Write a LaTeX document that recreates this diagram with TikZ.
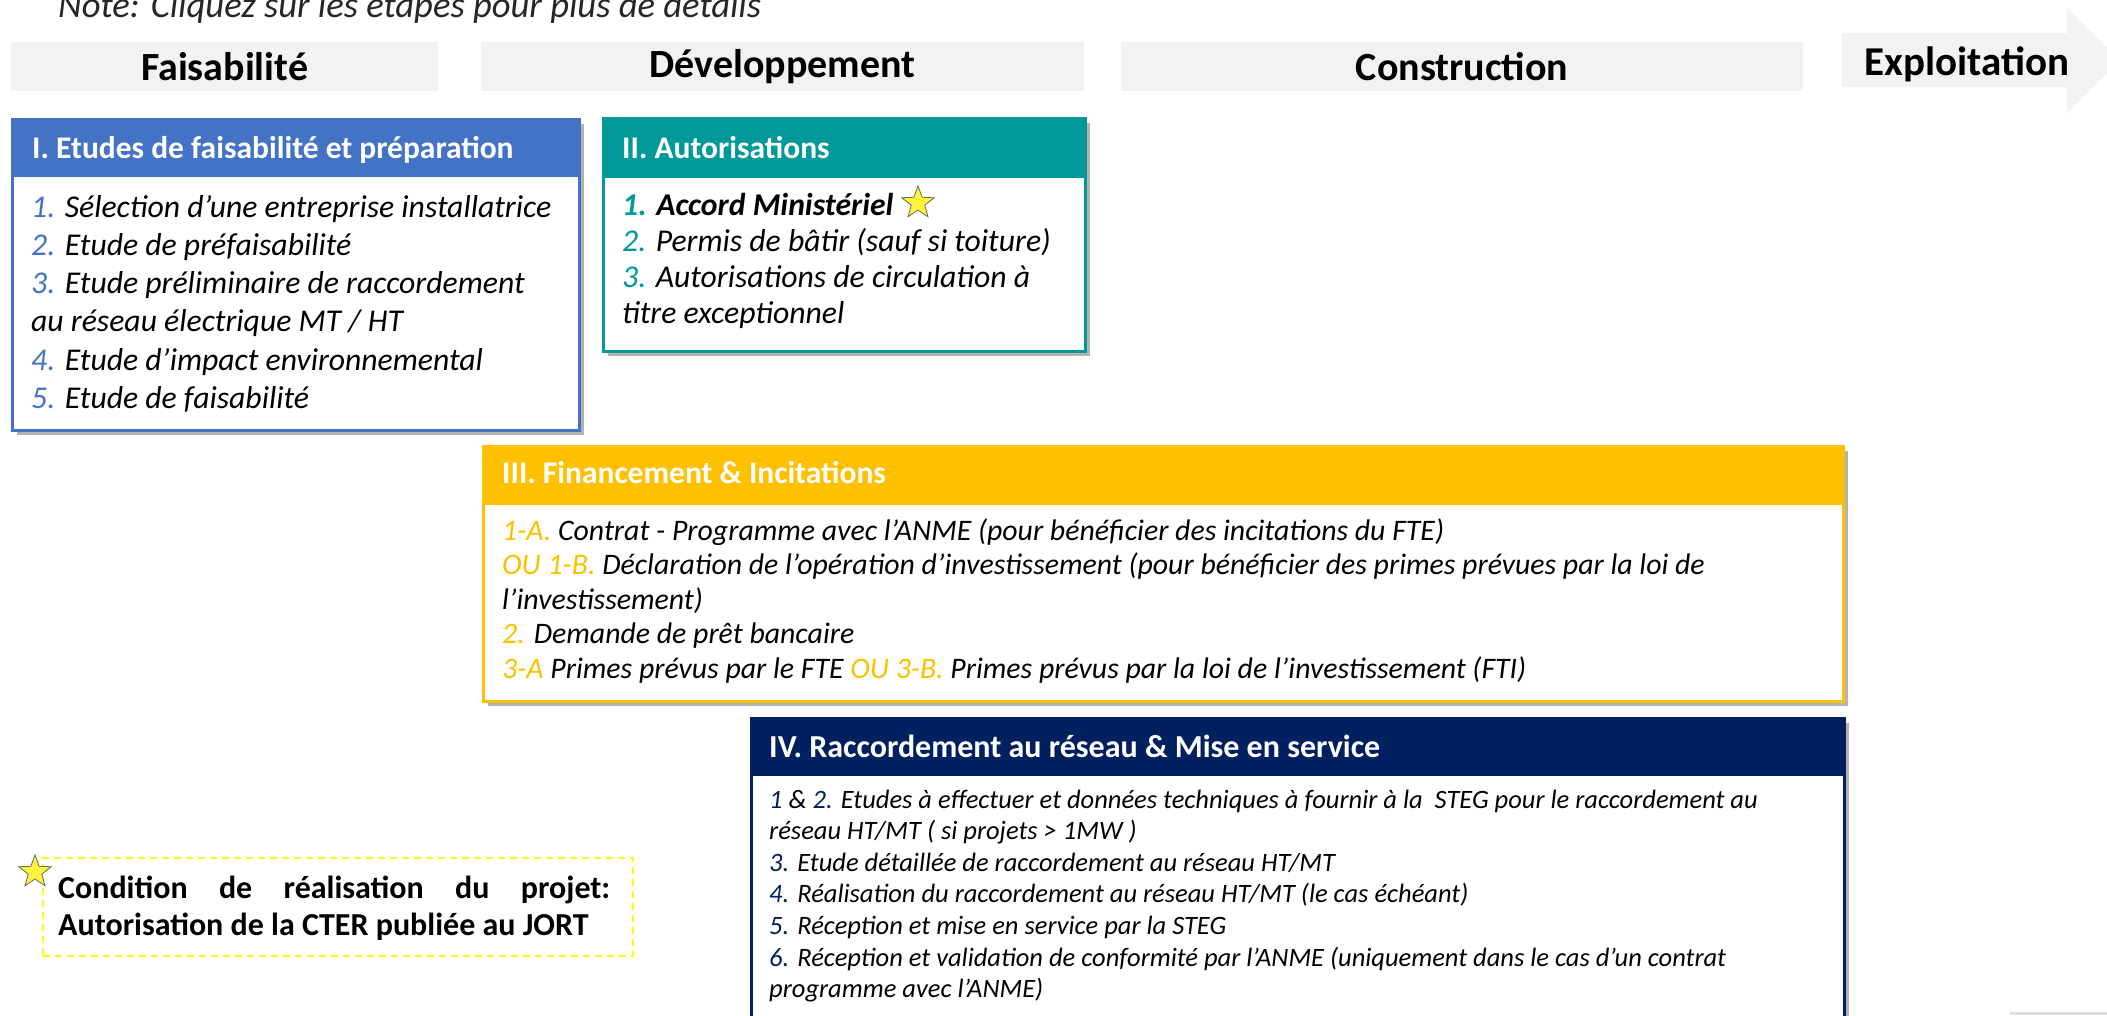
\documentclass[tikz,border=0pt]{standalone}
\usepackage{fontspec}
\setmainfont{Carlito}
\usetikzlibrary{positioning,shadows,shapes.geometric}
\definecolor{phasegray}{HTML}{F2F2F2}
\definecolor{etblue}{HTML}{4472C4}
\definecolor{auteal}{HTML}{009999}
\definecolor{fingold}{HTML}{FFC000}
\definecolor{rcnavy}{HTML}{002060}
\definecolor{notegray}{HTML}{262626}
\definecolor{staryellow}{HTML}{FFF43C}
\definecolor{condyellow}{HTML}{FFFF00}
\newcommand{\stepno}[2]{\textcolor{#1}{#2}}
\tikzset{
  phase/.style={fill=phasegray,inner sep=0pt,minimum height=49pt,
    font=\fontsize{40}{48}\selectfont\bfseries},
  boxframe/.style={draw=#1,fill=white,line width=2.5pt,anchor=north west,
    inner sep=0pt,drop shadow={shadow xshift=5pt,shadow yshift=-5pt,
    fill=black,opacity=0.3}},
  boxhead/.style={fill=#1,draw=#1,line width=2.5pt,anchor=north west,
    inner sep=0pt},
  headtxt/.style={anchor=base west,text=white,inner sep=0pt,
    font=\fontsize{31.5}{38}\selectfont\bfseries},
  % multi-line text: the base anchor sits on the last line
  bodytxt/.style 2 args={anchor=base west,align=left,inner sep=0pt,
    font=\fontsize{#1}{#2}\selectfont\itshape},
  goldstar/.style={star,star points=5,star point ratio=2.4,fill=staryellow,
    draw=black!60,line width=0.8pt,minimum size=34pt,inner sep=0pt},
  condbox/.style={draw=condyellow,line width=2pt,dash pattern=on 7pt off 5pt,
    anchor=north west,inner sep=0pt},
}

\begin{document}
\begin{tikzpicture}[x=1pt,y=-1pt]
  \useasboundingbox (0,0) rectangle (2107,1015);
  \clip (0,0) rectangle (2107,1015);

  % note
  \node[anchor=base west,inner sep=0pt,text=notegray,
    font=\fontsize{36.6}{40}\selectfont\itshape] (note) at (58,17)
    {Note: Cliquez sur les étapes pour plus de détails};

  % phases
  \node[phase,minimum width=427pt] (phF) at (224.5,66.5) {Faisabilité};
  \node[phase,minimum width=603pt] (phD) at (782.5,66.5) {Développement};
  \node[phase,minimum width=682pt] (phC) at (1462,66.5) {Construction};
  \fill[phasegray] (1842,33) -- (2067,33) -- (2067,8) -- (2120,60.5)
    -- (2067,113) -- (2067,87) -- (1842,87) -- cycle;
  \node[inner sep=0pt,font=\fontsize{41}{48}\selectfont\bfseries]
    (phE) at (1967,64) {Exploitation};

  % I. faisabilite
  \node[boxframe=etblue,minimum width=567pt,minimum height=311pt]
    (fI) at (11,118) {};
  \node[boxhead=etblue,minimum width=567pt,minimum height=56pt]
    (hdI) at (11,118) {};
  \node[headtxt] (tI) at (32,158) {I. Etudes de faisabilité et préparation};
  \node[bodytxt={31.7}{38.3}] (bI) at (31,408.5) {%
    \stepno{etblue}{1.} Sélection d’une entreprise installatrice\\
    \stepno{etblue}{2.} Etude de préfaisabilité\\
    \stepno{etblue}{3.} Etude préliminaire de raccordement\\
    au réseau électrique MT / HT\\
    \stepno{etblue}{4.} Etude d’impact environnemental\\
    \stepno{etblue}{5.} Etude de faisabilité};

  % II. autorisations
  \node[boxframe=auteal,minimum width=482pt,minimum height=233pt]
    (fII) at (602,117) {};
  \node[boxhead=auteal,minimum width=482pt,minimum height=58pt]
    (hdII) at (602,117) {};
  \node[headtxt] (tII) at (622,158) {II. Autorisations};
  \node[bodytxt={31.7}{36}] (bII) at (622,323) {%
    \textbf{\stepno{auteal}{1.} Accord Ministériel}\\
    \stepno{auteal}{2.} Permis de bâtir (sauf si toiture)\\
    \stepno{auteal}{3.} Autorisations de circulation à\\
    titre exceptionnel};
  \node[goldstar] (stII) at (918,203) {};

  % III. financement
  \node[boxframe=fingold,minimum width=1360pt,minimum height=255pt]
    (fIII) at (482,445) {};
  \node[boxhead=fingold,minimum width=1360pt,minimum height=57pt]
    (hdIII) at (482,445) {};
  \node[headtxt] (tIII) at (502,483) {III. Financement \& Incitations};
  \node[bodytxt={29.8}{34.5}] (bIII) at (502,678) {%
    \stepno{fingold}{1-A.} Contrat - Programme avec l’ANME (pour bénéficier des incitations du FTE)\\
    \stepno{fingold}{OU 1-B.} Déclaration de l’opération d’investissement (pour bénéficier des primes prévues par la loi de\\
    l’investissement)\\
    \stepno{fingold}{2.} Demande de prêt bancaire\\
    \stepno{fingold}{3-A} Primes prévus par le FTE \stepno{fingold}{OU 3-B.} Primes prévus par la loi de l’investissement (FTI)};

  % IV. raccordement
  \node[boxframe=rcnavy,minimum width=1093pt,minimum height=330pt]
    (fIV) at (750,717) {};
  \node[boxhead=rcnavy,minimum width=1093pt,minimum height=56pt]
    (hdIV) at (750,717) {};
  \node[headtxt,font=\fontsize{32}{38}\selectfont\bfseries] (tIV) at (769,757)
    {IV. Raccordement au réseau \& Mise en service};
  \node[bodytxt={26.5}{31.6}] (bIV) at (769,997.6) {%
    \stepno{rcnavy}{1} \& \stepno{rcnavy}{2.} Etudes à effectuer et données techniques à fournir à la \ STEG pour le raccordement au\\
    réseau HT/MT ( si projets > 1MW )\\
    \stepno{rcnavy}{3.} Etude détaillée de raccordement au réseau HT/MT\\
    \stepno{rcnavy}{4.} Réalisation du raccordement au réseau HT/MT (le cas échéant)\\
    \stepno{rcnavy}{5.} Réception et mise en service par la STEG\\
    \stepno{rcnavy}{6.} Réception et validation de conformité par l’ANME (uniquement dans le cas d’un contrat\\
    programme avec l’ANME)};

  % condition
  \node[condbox,minimum width=590pt,minimum height=98pt] (cond) at (42,857) {};
  \node[goldstar] (stC) at (35,872) {};
  \node[anchor=base west,inner sep=0pt,align=left,
    font=\fontsize{32}{37}\selectfont\bfseries] (tC) at (58,935)
    {\makebox[552pt][s]{Condition de réalisation du projet:}\\
     Autorisation de la CTER publiée au JORT};

  \fill[black!12] (2010,1012) rectangle (2107,1015);
\end{tikzpicture}
\end{document}
